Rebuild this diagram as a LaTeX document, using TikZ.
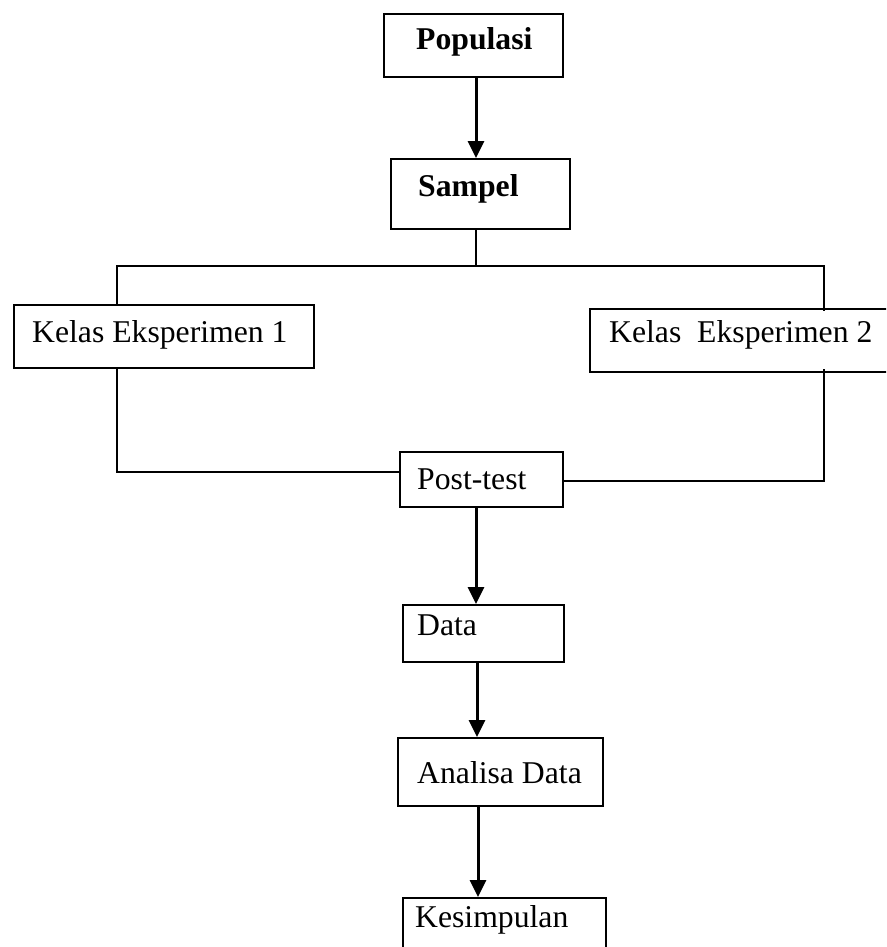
\documentclass[tikz,border=0pt]{standalone}
\usepackage{fontspec}
\setmainfont{Liberation Serif}
\usetikzlibrary{arrows.meta}
\begin{document}
\begin{tikzpicture}[x=1pt,y=-1pt,
  box/.style={draw, line width=2pt, inner sep=0pt, anchor=north west},
  lbl/.style={inner sep=0pt, anchor=base west, font=\fontsize{31.7}{38}\selectfont},
  conn/.style={line width=2pt},
  arr/.style={line width=3pt, -{Triangle[length=17pt,width=16pt]}}]
\useasboundingbox (0,0) rectangle (886,947);
\clip (0,0) rectangle (886,947);
\fill[white] (0,0) rectangle (886,947);
% boxes
\node[box, minimum width=179pt, minimum height=63pt] (pop) at (383,13) {};
\node[box, minimum width=179pt, minimum height=70pt] (samp) at (390,158) {};
\node[box, minimum width=300pt, minimum height=63pt] (k1) at (13,304) {};
\node[box, minimum width=320pt, minimum height=63pt] (k2) at (589,308) {};
\node[box, minimum width=163pt, minimum height=55pt] (post) at (399,451) {};
\node[box, minimum width=161pt, minimum height=57pt] (data) at (402,604) {};
\node[box, minimum width=205pt, minimum height=68pt] (ana) at (397,737) {};
\node[box, minimum width=203pt, minimum height=80pt] (kes) at (402,897) {};
% labels
\node[lbl] (popT) at (416,50) {\textbf{Populasi}};
\node[lbl] (sampT) at (418,196) {\textbf{Sampel}};
\node[lbl] (k1T) at (32,342) {Kelas Eksperimen 1};
\node[lbl] (k2T) at (609,342) {Kelas\ \ Eksperimen 2};
\node[lbl] (postT) at (417,489) {Post-test};
\node[lbl] (dataT) at (417,635) {Data};
\node[lbl] (anaT) at (417,783) {Analisa Data};
\node[lbl] (kesT) at (415,927) {Kesimpulan};
% junction coordinates
\coordinate (mid) at (476,266);
\coordinate (left) at (117,266);
\coordinate (right) at (824,266);
\coordinate (lj) at (117,472);
\coordinate (rj) at (824,481);
% connectors
\draw[arr] (pop.south -| mid) -- (samp.north -| mid);
\draw[conn] (samp.south -| mid) -- (mid);
\draw[conn] (k1.north -| left) -- (left) -- (right) -- ([yshift=-3pt]k2.north -| right);
\draw[conn] (k1.south -| lj) -- (lj) -- (post.west |- lj);
\draw[conn] ([yshift=4pt]k2.south -| rj) -- (rj) -- (post.east |- rj);
\draw[arr] (post.south -| mid) -- (data.north -| mid);
\draw[arr] ([xshift=1pt]data.south -| mid) -- ([xshift=1pt]ana.north -| mid);
\draw[arr] ([xshift=2pt]ana.south -| mid) -- ([xshift=2pt]kes.north -| mid);
\end{tikzpicture}
\end{document}
